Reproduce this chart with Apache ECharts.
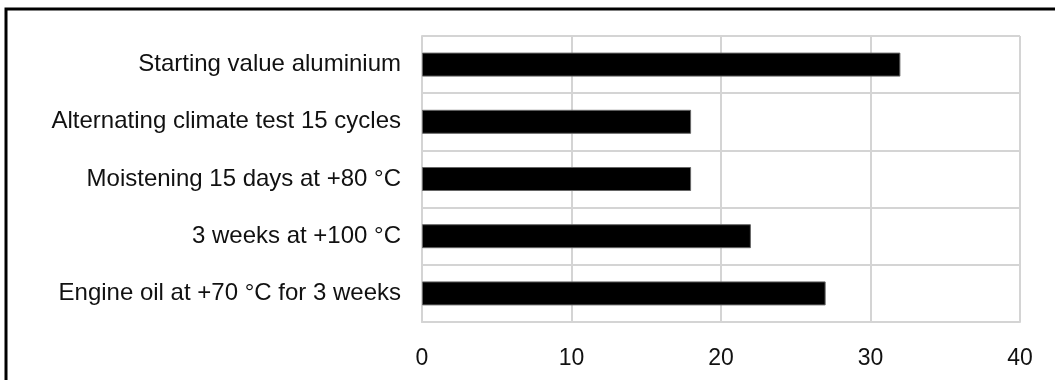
<!DOCTYPE html>
<html>
<head>
<meta charset="utf-8">
<script src="https://cdn.jsdelivr.net/npm/echarts@6/dist/echarts.min.js"></script>
<style>
  html, body { margin: 0; padding: 0; background: #fff; }
  #chart { width: 1055px; height: 380px; }
</style>
</head>
<body>
<div id="chart"></div>
<script>
const categories = [
  "Starting value aluminium",
  "Alternating climate test 15 cycles",
  "Moistening 15 days at +80 °C",
  "3 weeks at +100 °C",
  "Engine oil at +70 °C for 3 weeks",
];
const values = [32, 18, 18, 22, 27];
const tickMin = 0;
const tickMax = 40;
const tickStep = 10;

const gridColor = "#d4d4d4";
const font = "Liberation Sans, Arial, sans-serif";

const chart = echarts.init(document.getElementById("chart"));
chart.setOption({
  animation: false,
  grid: { left: 422, right: 35, top: 36, bottom: 58 },
  graphic: [
    {
      type: "rect",
      shape: { x: 6, y: 9, width: 1100, height: 500 },
      style: { fill: "none", stroke: "#000", lineWidth: 3 },
      silent: true,
    },
  ],
  xAxis: {
    type: "value",
    min: tickMin,
    max: tickMax,
    interval: tickStep,
    axisLine: { show: true, lineStyle: { color: gridColor, width: 2 } },
    axisTick: { show: false },
    splitLine: { show: true, lineStyle: { color: gridColor, width: 2 } },
    axisLabel: { color: "#111", fontSize: 23, fontFamily: font, margin: 25 },
  },
  yAxis: {
    type: "category",
    data: categories,
    inverse: true,
    axisLine: { show: true, lineStyle: { color: gridColor, width: 2 } },
    axisTick: { show: false },
    splitLine: { show: true, lineStyle: { color: gridColor, width: 2 } },
    axisLabel: { color: "#111", fontSize: 24, fontFamily: font, margin: 21 },
  },
  series: [
    {
      type: "bar",
      data: values,
      barWidth: 24,
      itemStyle: { color: "#000", borderColor: "#666", borderWidth: 1 },
    },
  ],
});
</script>
</body>
</html>
